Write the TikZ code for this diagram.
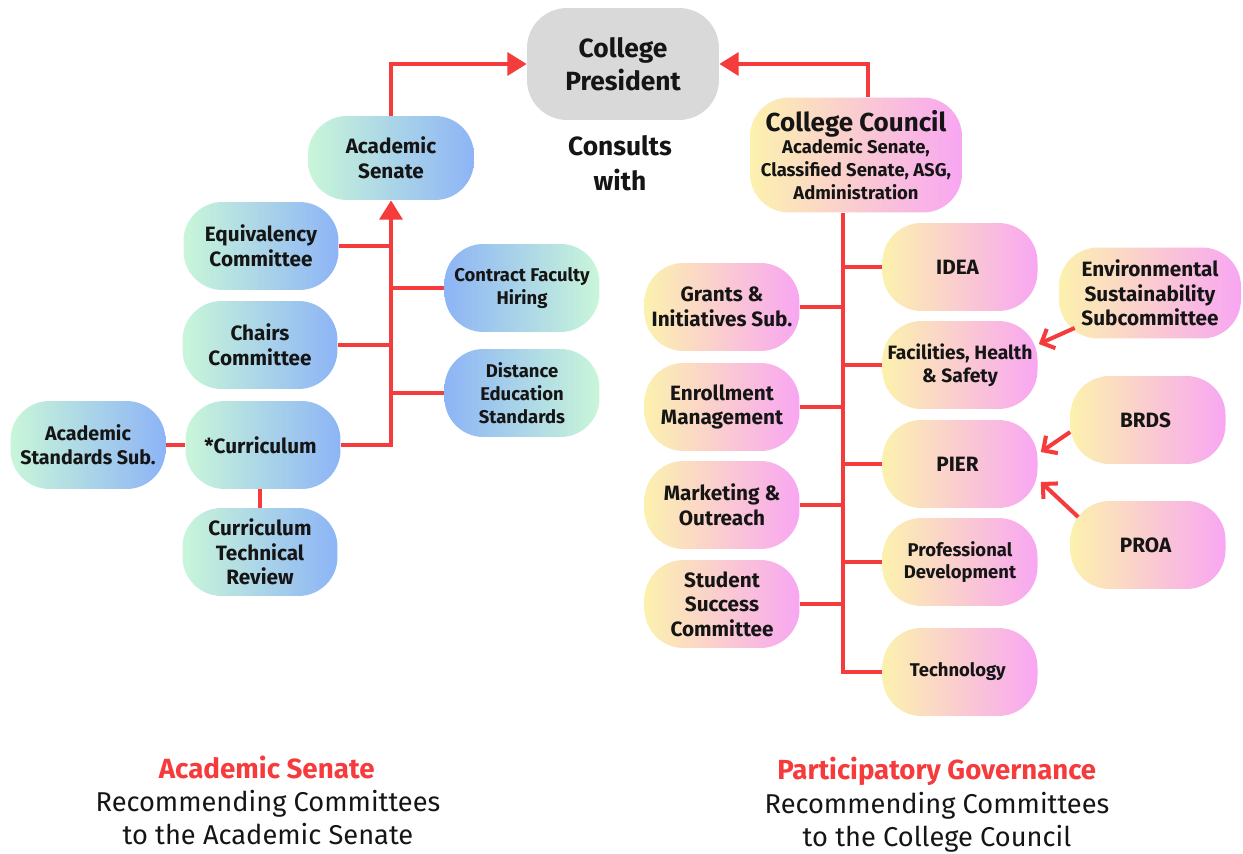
\documentclass[tikz,border=0pt]{standalone}
\usepackage{fontspec}
\setmainfont{Fira Sans}
\usetikzlibrary{arrows.meta,positioning,shapes}
\usepackage{xcolor}
\definecolor{mint}{HTML}{C9F6D9}
\definecolor{skyblue}{HTML}{8DB4F6}
\definecolor{butter}{HTML}{FCF1AE}
\definecolor{orchid}{HTML}{F8A6F2}
\definecolor{linkred}{HTML}{F53B3B}
\definecolor{presgray}{HTML}{D9D9D9}
\definecolor{inktext}{HTML}{151515}

\begin{document}
\begin{tikzpicture}[x=0.02cm, y=-0.02cm, every node/.style={
    rectangle,
    rounded corners=0.78cm,
    inner sep=2pt,
    align=center,
    text=inktext,
    minimum width=3.1cm,
    minimum height=1.76cm,
    font=\bfseries\fontsize{11.8}{14}\selectfont
},
    senate/.style={left color=mint, right color=skyblue},
    senater/.style={left color=skyblue, right color=mint},
    council/.style={left color=butter, right color=orchid},
    small/.style={font=\bfseries\fontsize{10.5}{13}\selectfont},
    caption/.style={minimum width=0pt, minimum height=0pt, rounded corners=0pt},
    link/.style={linkred, line width=2.3pt, rounded corners=0pt},
    tolink/.style={link, -{Triangle[length=11pt, width=13pt]}},
    feed/.style={linkred, line width=2.3pt, -{Straight Barb[length=6pt, width=12pt]}}
]
    \useasboundingbox (0, 0) rectangle (1243, 854);

    \node (college_president) [fill=presgray, minimum width=3.84cm, minimum height=2.24cm, rounded corners=0.8cm,
        font=\bfseries\fontsize{15}{19}\selectfont, shift={(623, 64)}]
    {
        College\\President
    };
    \node (consults_with) [caption, font=\bfseries\fontsize{15}{20}\selectfont, shift={(620, 163)}]
    {
        Consults\\with
    };

    \node (academic_senate) [senate, minimum width=3.32cm, minimum height=1.68cm, shift={(391, 158)}]
    {
        Academic\\Senate
    };
    \node (equivalency) [senate, shift={(261, 246)}]
    {
        Equivalency\\Committee
    };
    \node (chairs) [senate, shift={(260, 345)}]
    {
        Chairs\\Committee
    };
    \node (curriculum) [senate, shift={(263, 445)}]
    {
        *Curriculum
    };
    \node (academic_standards) [senate, font=\bfseries\fontsize{11.2}{13.5}\selectfont, shift={(88, 445)}]
    {
        Academic\\Standards Sub.
    };
    \node (curriculum_review) [senate, shift={(260, 552)}]
    {
        Curriculum\\Technical\\Review
    };
    \node (contract_hiring) [senater, small, shift={(522, 288)}]
    {
        Contract Faculty\\Hiring
    };
    \node (distance_ed) [senater, small, shift={(522, 393)}]
    {
        Distance\\Education\\Standards
    };


    \node (college_council) [council, minimum width=4.24cm, minimum height=2.3cm, small, shift={(856, 155)}]
    {
        {\fontsize{14.8}{17}\selectfont College Council}\\Academic Senate,\\Classified Senate, ASG,\\Administration
    };

    \node (idea) [council, shift={(960, 267)}]
    {
        IDEA
    };
    \node (facilities) [council, font=\bfseries\fontsize{11}{13}\selectfont, shift={(960, 365)}]
    {
        Facilities, Health\\\& Safety
    };
    \node (pier) [council, shift={(960, 464)}]
    {
        PIER
    };
    \node (prof_dev) [council, small, shift={(960, 562)}]
    {
        Professional\\Development
    };
    \node (technology) [council, small, shift={(960, 672)}]
    {
        Technology
    };

    \node (grants) [council, font=\bfseries\fontsize{11.8}{14}\selectfont, shift={(722, 307)}]
    {
        Grants \&\\Initiatives Sub.
    };
    \node (enrollment) [council, shift={(722, 407)}]
    {
        Enrollment\\Management
    };
    \node (marketing) [council, shift={(722, 505)}]
    {
        Marketing \&\\Outreach
    };
    \node (student_success) [council, shift={(722, 604)}]
    {
        Student\\Success\\Committee
    };

    \node (env_sub) [council, minimum width=3.64cm, minimum height=1.82cm, shift={(1150, 293)}]
    {
        Environmental\\Sustainability\\Subcommittee
    };
    \node (brds) [council, shift={(1148, 420)}]
    {
        BRDS
    };
    \node (proa) [council, shift={(1148, 545)}]
    {
        PROA
    };


    \node (senate_title) [caption, text=linkred, font=\bfseries\fontsize{15.8}{19}\selectfont, shift={(270, 767)}]
    {
        Academic Senate
    };
    \node (senate_note) [caption, font=\fontsize{15.5}{18.8}\selectfont, shift={(268, 818)}]
    {
        Recommending Committees\\to the Academic Senate
    };
    \node (gov_title) [caption, text=linkred, font=\bfseries\fontsize{15.7}{19}\selectfont, shift={(940, 771)}]
    {
        Participatory Governance
    };
    \node (gov_note) [caption, font=\fontsize{15.5}{18.8}\selectfont, shift={(937, 822)}]
    {
        Recommending Committees\\to the College Council
    };

    \coordinate (gov_trunk) at ([xshift=-0.26cm]college_council.south);

    \draw[tolink] (academic_senate.north) |- (college_president.west);
    \draw[tolink] ([xshift=0.24cm]college_council.north) |- (college_president.east);

    \draw[tolink] (curriculum.east) -| (academic_senate.south);
    \draw[link] (equivalency.east) -- (equivalency.east -| academic_senate.south);
    \draw[link] (chairs.east) -- (chairs.east -| academic_senate.south);
    \draw[link] (contract_hiring.west) -- (contract_hiring.west -| academic_senate.south);
    \draw[link] (distance_ed.west) -- (distance_ed.west -| academic_senate.south);
    \draw[link] (academic_standards) -- (curriculum);
    \draw[link] (curriculum_review.north) -- (curriculum_review.north |- curriculum.south);

    \draw[link] (gov_trunk) |- (technology.west);
    \draw[link] (idea.west) -- (idea.west -| gov_trunk);
    \draw[link] (facilities.west) -- (facilities.west -| gov_trunk);
    \draw[link] (pier.west) -- (pier.west -| gov_trunk);
    \draw[link] (prof_dev.west) -- (prof_dev.west -| gov_trunk);
    \draw[link] (grants.east) -- (grants.east -| gov_trunk);
    \draw[link] (enrollment.east) -- (enrollment.east -| gov_trunk);
    \draw[link] (marketing.east) -- (marketing.east -| gov_trunk);
    \draw[link] (student_success.east) -- (student_success.east -| gov_trunk);

    \draw[feed] ([shift={(0.32cm, -0.7cm)}]env_sub.west) -- ([shift={(0.02cm, 0.42cm)}]facilities.east);
    \draw[feed] ([yshift=-0.24cm]brds.west) -- ([shift={(0.06cm, 0.24cm)}]pier.east);
    \draw[feed] ([shift={(0.16cm, 0.56cm)}]proa.west) -- ([shift={(0.06cm, -0.36cm)}]pier.east);

\end{tikzpicture}
\end{document}
